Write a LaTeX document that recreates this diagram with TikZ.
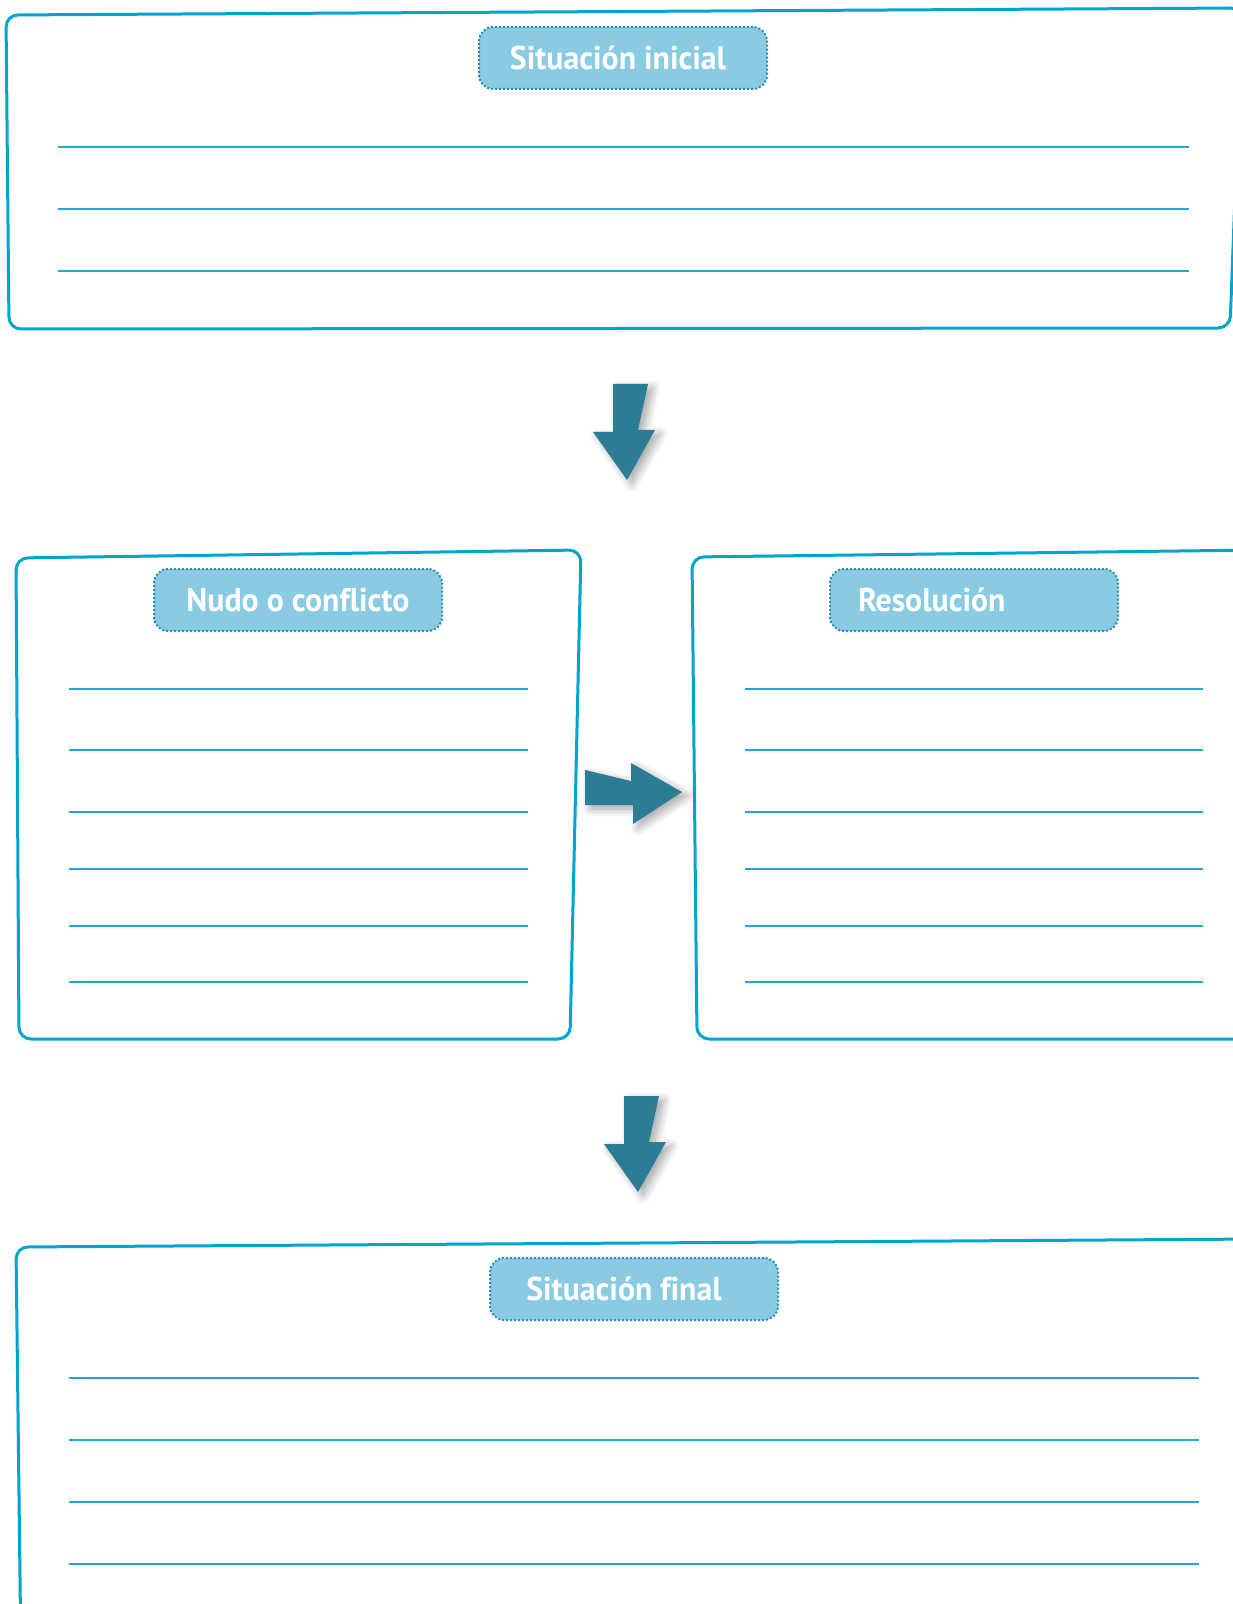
\documentclass[tikz,border=0pt]{standalone}
\usepackage{fontspec}
\newfontfamily\tabfont[FakeStretch=0.97,Ligatures=NoCommon]{PT Sans}
\usetikzlibrary{shadows.blur}

\definecolor{boxcyan}{RGB}{0,165,207}
\definecolor{rulecyan}{RGB}{30,168,210}
\definecolor{tabfill}{RGB}{137,203,227}
\definecolor{tabdot}{RGB}{45,140,178}
\definecolor{arrowteal}{RGB}{43,125,149}

\begin{document}
\begin{tikzpicture}[x=0.5pt,y=-0.5pt,
    frame/.style={draw=boxcyan,line width=1.5pt,rounded corners=6pt},
    rule/.style={draw=rulecyan,line width=0.8pt},
    tab/.style={fill=tabfill,draw=tabdot,densely dotted,line width=1pt,rounded corners=7pt,
      minimum width=144pt,minimum height=31pt,inner sep=0pt,
      font=\tabfont\bfseries\fontsize{16.4}{18}\selectfont,text=white},
    blockarrow/.style={fill=arrowteal,blur shadow={shadow xshift=2.5pt,shadow yshift=-2pt,
      shadow blur radius=4pt,shadow opacity=35,shadow blur steps=10}}]
  \useasboundingbox (0,0) rectangle (1232,1604);

  % frames
  \path[frame] (6,15) -- (1242,8) -- (1230,328) -- (9,329) -- cycle;
  \path[frame] (16,558) -- (581,550) -- (570,1039) -- (19,1039) -- cycle;
  \path[frame] (692,557) -- (1260,550) -- (1260,1039) -- (697,1039) -- cycle;
  \path[frame] (16,1247) -- (1260,1239) -- (1260,1660) -- (21,1660) -- cycle;

  % writing lines
  \foreach \y in {147,209,271}
    \draw[rule] (58,\y) -- (1189,\y);
  \foreach \y in {689,750,812,869,926,982} {
    \draw[rule] (69,\y) -- (528,\y);
    \draw[rule] (745,\y) -- (1203,\y);
  }
  \foreach \y in {1378,1440,1502,1564}
    \draw[rule] (69,\y) -- (1199,\y);

  % tabs
  \node[tab] (sitini) at (623,58) {\hspace*{-5pt}Situación inicial};
  \node[tab] (nudo) at (298,600) {Nudo o conflicto};
  \node[tab,text width=144pt,align=left,inner xsep=0pt] (resol) at (974,600) {\hspace*{14pt}Resolución};
  \node[tab] (sitfin) at (634,1289) {\hspace*{-10pt}Situación final};

  % arrows
  \path[blockarrow] (613,384) -- (648,384) -- (638,430) -- (655,430) -- (627,480)
    -- (593,432) -- (613,432) -- cycle;
  \path[blockarrow] (585,770) -- (631,781) -- (631,763) -- (682,792) -- (633,824)
    -- (633,805) -- (585,805) -- cycle;
  \path[blockarrow,shift={(11,712)}] (613,384) -- (648,384) -- (638,430) -- (655,430)
    -- (627,480) -- (593,432) -- (613,432) -- cycle;
\end{tikzpicture}
\end{document}
